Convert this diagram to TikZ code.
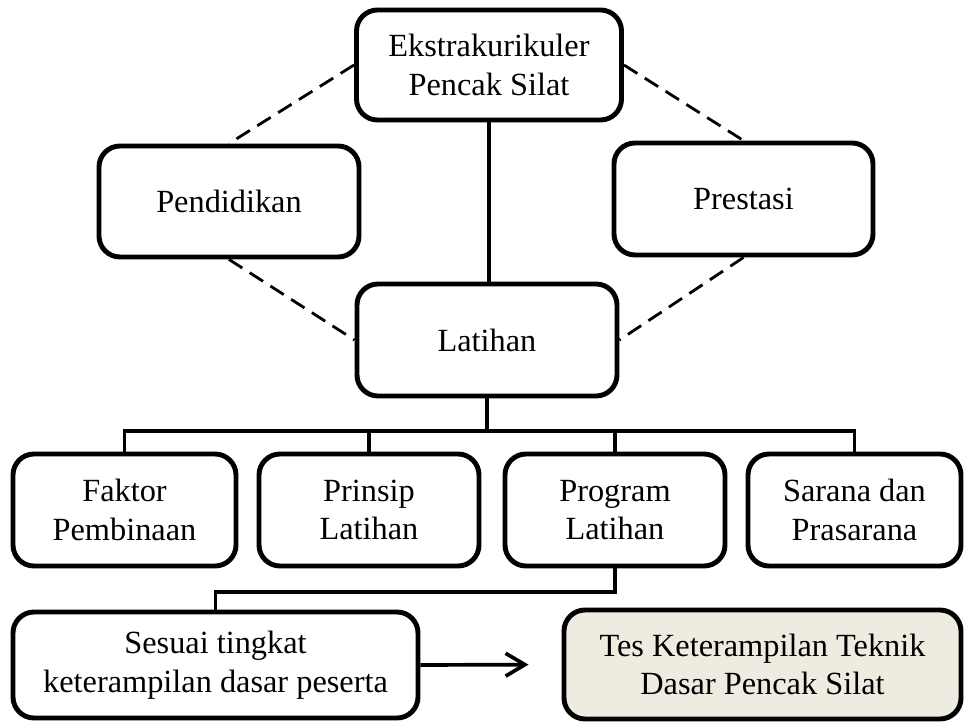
\documentclass[tikz,border=0pt]{standalone}
\usepackage{fontspec}
\setmainfont{Liberation Serif}
\usetikzlibrary{arrows.meta}
\definecolor{tesfill}{HTML}{EEECE1}
\tikzset{
	kotak/.style={draw, line width=2.8pt, rounded corners=0.42cm, align=center,
		font=\fontsize{18.4}{22}\selectfont, inner sep=2pt},
	garis/.style={line width=2.1pt},
	putus/.style={line width=1.6pt, dash pattern=on 9pt off 5pt}
}
\begin{document}
\begin{tikzpicture}
		\useasboundingbox (0,0) rectangle (19.28,-14.44);
		
		\node [kotak, minimum width=5.3cm, minimum height=2.2cm] (ekstra) at (9.78,-1.30) {Ekstrakurikuler\\Pencak Silat};
		\node [kotak, minimum width=5.2cm, minimum height=2.22cm] (pendidikan) at (4.58,-4.03) {Pendidikan};
		\node [kotak, minimum width=5.18cm, minimum height=2.24cm] (prestasi) at (14.87,-3.98) {Prestasi};
		\node [kotak, minimum width=5.2cm, minimum height=2.24cm] (latihan) at (9.74,-6.8) {Latihan};
		
		\node [kotak, minimum width=4.46cm, minimum height=2.24cm] (faktor) at (2.49,-10.2) {Faktor\\Pembinaan};
		\node [kotak, minimum width=4.4cm, minimum height=2.24cm] (prinsip) at (7.38,-10.2) {Prinsip\\Latihan};
		\node [kotak, minimum width=4.4cm, minimum height=2.24cm] (program) at (12.3,-10.2) {Program\\Latihan};
		\node [kotak, minimum width=4.26cm, minimum height=2.24cm] (sarana) at (17.09,-10.2) {Sarana dan\\Prasarana};
		
		\node [kotak, minimum width=8.1cm, minimum height=2.12cm] (sesuai) at (4.31,-13.3) {Sesuai tingkat\\keterampilan dasar peserta};
		\node [kotak, fill=tesfill, minimum width=7.94cm, minimum height=2.18cm] (tes) at (15.25,-13.29) {Tes Keterampilan Teknik\\Dasar Pencak Silat};
		
		\coordinate (cabang) at (0,-8.62);
		\coordinate (belok) at (0,-11.84);
		
		\draw [garis] (ekstra.south) -- (ekstra.south |- latihan.north);
		
		\draw [putus] (ekstra.west) -- (pendidikan.north);
		\draw [putus] (pendidikan.south) -- (latihan.west);
		\draw [putus] (ekstra.east) -- (prestasi.north);
		\draw [putus] (prestasi.south) -- (latihan.east);
		
		\draw [garis] (latihan.south) -- (latihan.south |- cabang);
		\draw [garis] (faktor.north) -- (faktor.north |- cabang) -- (sarana.north |- cabang) -- (sarana.north);
		\draw [garis] (prinsip.north) -- (prinsip.north |- cabang);
		\draw [garis] (program.north) -- (program.north |- cabang);
		
		\draw [garis] (program.south) -- (program.south |- belok) -| (sesuai.north);
		\draw [garis, -{Straight Barb[length=11pt,width=13pt,line width=2.1pt]}, shorten >=0.66cm] (sesuai.east) -- (tes.west);
	\end{tikzpicture}
\end{document}
